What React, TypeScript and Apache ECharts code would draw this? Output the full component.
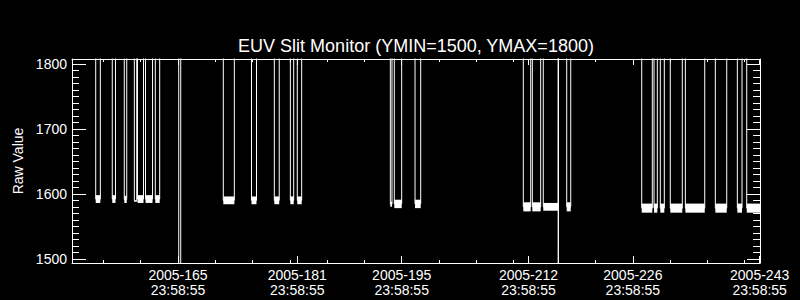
import React, { useEffect, useRef } from "react";
import * as echarts from "echarts";

// ---- axis ranges (day-of-year 2005, y raw value) ----
const xMin = 150.79;
const xMax = 243.05;
const yMin = 1493.5;
const yMax = 1807.7;
const offScaleHigh = 1900; // samples above YMAX (clipped)
const offScaleLow = 1450; // samples below YMIN (clipped)

// ---- tick positions / labels ----
const majorDays = [165, 181, 195, 212, 226, 243];
const minorDays = [155, 160, 170, 175, 180, 185, 190, 200, 205, 210, 216, 221, 231, 236, 241];
const yMajor = [1500, 1600, 1700, 1800];
const yMinor = [
  1510, 1520, 1530, 1540, 1550, 1560, 1570, 1580, 1590,
  1610, 1620, 1630, 1640, 1650, 1660, 1670, 1680, 1690,
  1710, 1720, 1730, 1740, 1750, 1760, 1770, 1780, 1790,
];
const timeOfDay = "23:58:55";

// ---- dips of the monitor signal (start day, end day, noise band low/high) ----
const dipStart = [
  153.97, 156.19, 157.8, 159.15, 159.57, 160.65, 161.96, 165.1,
  171.08, 174.86, 177.92, 180.07, 181.0,
  193.48, 194.01, 196.79,
  211.31, 212.52, 213.99, 216.0, 217.13,
  227.19, 228.84, 229.68, 231.02, 233.04, 237.06, 240.01, 241.27,
];
const dipEnd = [
  154.59, 156.62, 158.13, 159.47, 160.38, 161.59, 162.55, 165.37,
  172.56, 175.53, 178.58, 180.52, 181.59,
  193.7, 195.0, 197.55,
  212.3, 213.64, 216.0, 216.03, 217.67,
  228.61, 229.28, 230.22, 232.63, 235.64, 238.59, 240.64, 243.05,
];
const bandLow = [
  1586, 1586, 1586, 1588, 1586, 1586, 1586, offScaleLow,
  1584, 1584, 1584, 1584, 1584,
  1580, 1578, 1578,
  1573, 1573, 1574, offScaleLow, 1573,
  1571, 1571, 1571, 1571, 1571, 1571, 1571, 1571,
];
const bandHigh = [
  1598, 1598, 1597, 1590, 1598, 1598, 1598, offScaleLow,
  1596, 1596, 1596, 1596, 1596,
  1588, 1591, 1591,
  1587, 1587, 1586, offScaleLow, 1587,
  1585, 1585, 1585, 1585, 1585, 1585, 1585, 1585,
];

const FONT = "Liberation Sans";
const WHITE = "#ffffff";

export default function App() {
  const ref = useRef<HTMLDivElement>(null);

  useEffect(() => {
    if (!ref.current) return;
    const chart = echarts.init(ref.current, undefined, { renderer: "svg" });

    const lineData: number[][] = [[xMin, offScaleHigh]];
    const bandData: number[][] = [];
    for (let i = 0; i < dipStart.length; i++) {
      const s = dipStart[i];
      const e = dipEnd[i];
      const mid = (bandLow[i] + bandHigh[i]) / 2;
      lineData.push([s, offScaleHigh], [s, mid], [e, mid]);
      if (e < xMax) lineData.push([e, offScaleHigh]);
      if (bandHigh[i] > yMin) bandData.push([s, e, bandLow[i], bandHigh[i]]);
    }

    const baseX = {
      type: "value" as const,
      min: xMin,
      max: xMax,
      splitLine: { show: false },
      axisLine: { onZero: false, lineStyle: { color: WHITE, width: 1 } },
    };
    const baseY = {
      type: "value" as const,
      min: yMin,
      max: yMax,
      splitLine: { show: false },
      axisLine: { onZero: false, lineStyle: { color: WHITE, width: 1 } },
    };

    chart.setOption({
      animation: false,
      backgroundColor: "#000000",
      title: {
        text: "EUV Slit Monitor (YMIN=1500, YMAX=1800)",
        left: 416,
        top: 37,
        padding: 0,
        textAlign: "center",
        textStyle: { color: WHITE, fontFamily: FONT, fontSize: 18, fontWeight: "normal" },
      },
      grid: { left: 72, right: 40, top: 59, bottom: 37 },
      xAxis: [
        {
          ...baseX,
          position: "bottom",
          axisTick: { customValues: majorDays, inside: true, length: 7, lineStyle: { color: WHITE } },
          axisLabel: {
            customValues: majorDays,
            color: WHITE,
            fontFamily: FONT,
            fontSize: 14,
            lineHeight: 15,
            margin: 4,
            formatter: (v: number) => `2005-${Math.round(v)}\n${timeOfDay}`,
          },
        },
        {
          ...baseX,
          position: "bottom",
          axisLine: { show: false },
          axisTick: { customValues: minorDays, inside: true, length: 3, lineStyle: { color: WHITE } },
          axisLabel: { show: false },
        },
        {
          ...baseX,
          position: "top",
          axisTick: { customValues: majorDays, inside: true, length: 6, lineStyle: { color: WHITE } },
          axisLabel: { show: false },
        },
        {
          ...baseX,
          position: "top",
          axisLine: { show: false },
          axisTick: { customValues: minorDays, inside: true, length: 3, lineStyle: { color: WHITE } },
          axisLabel: { show: false },
        },
      ],
      yAxis: [
        {
          ...baseY,
          position: "left",
          name: "Raw Value",
          nameLocation: "middle",
          nameGap: 46,
          nameTextStyle: { color: WHITE, fontFamily: FONT, fontSize: 14 },
          axisTick: { customValues: yMajor, inside: true, length: 14, lineStyle: { color: WHITE } },
          axisLabel: {
            customValues: yMajor,
            color: WHITE,
            fontFamily: FONT,
            fontSize: 14,
            margin: 5,
            formatter: (v: number) => String(Math.round(v)),
          },
        },
        {
          ...baseY,
          position: "left",
          axisLine: { show: false },
          axisTick: { customValues: yMinor, inside: true, length: 7, lineStyle: { color: WHITE } },
          axisLabel: { show: false },
        },
        {
          ...baseY,
          position: "right",
          axisTick: { customValues: yMajor, inside: true, length: 13, lineStyle: { color: WHITE } },
          axisLabel: { show: false },
        },
        {
          ...baseY,
          position: "right",
          axisLine: { show: false },
          axisTick: { customValues: yMinor, inside: true, length: 7, lineStyle: { color: WHITE } },
          axisLabel: { show: false },
        },
      ],
      series: [
        {
          type: "custom",
          xAxisIndex: 0,
          yAxisIndex: 0,
          data: bandData,
          encode: { x: [0, 1], y: [2, 3] },
          renderItem: (_params: any, api: any) => {
            const p1 = api.coord([api.value(0), api.value(3)]);
            const p2 = api.coord([api.value(1), api.value(2)]);
            return {
              type: "rect",
              shape: {
                x: p1[0],
                y: p1[1],
                width: Math.max(1, p2[0] - p1[0]),
                height: p2[1] - p1[1],
              },
              style: { fill: WHITE },
            };
          },
        },
        {
          type: "line",
          xAxisIndex: 0,
          yAxisIndex: 0,
          data: lineData,
          showSymbol: false,
          symbol: "none",
          clip: true,
          lineStyle: { color: WHITE, width: 1 },
        },
      ],
    });

    return () => chart.dispose();
  }, []);

  return (
    <div
      ref={ref}
      style={{ position: "fixed", left: 0, top: 0, width: 800, height: 300 }}
    />
  );
}
